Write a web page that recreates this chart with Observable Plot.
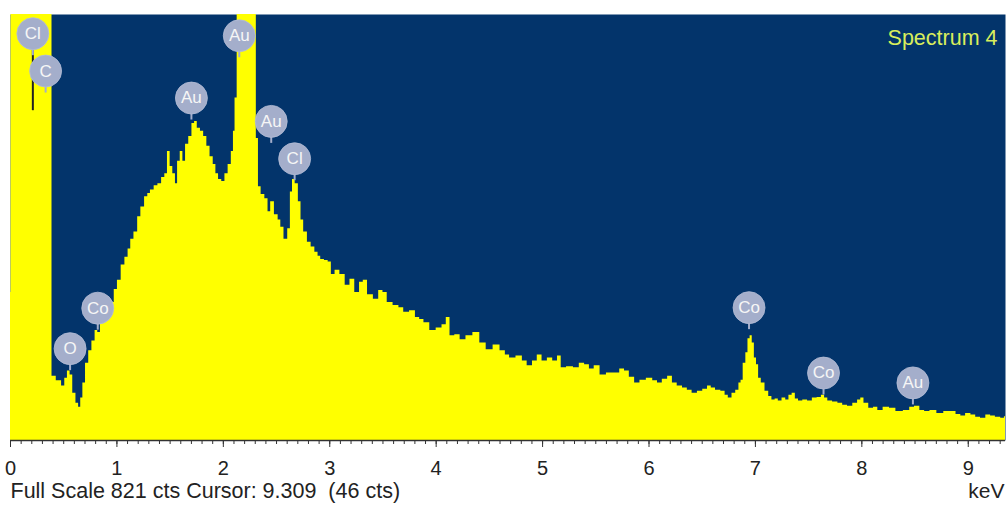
<!DOCTYPE html>
<html><head><meta charset="utf-8">
<script src="https://cdn.jsdelivr.net/npm/d3@7"></script>
<script src="https://cdn.jsdelivr.net/npm/@observablehq/plot@0.6"></script>
<style>body{margin:0;background:#fff;} svg{display:block;}</style>
</head><body><div id="chart"></div>
<script>
// Spectrum: energy (keV) and counts
const keV = [0,0.01,0.10,0.20,0.28,0.38,0.40,0.46,0.50,0.52,0.55,0.57,0.60,0.63,0.65,0.67,0.69,0.72,0.75,0.78,0.81,0.83,0.86,0.90,0.93,0.96,0.99,1.02,1.06,1.09,1.12,1.14,1.18,1.21,1.24,1.28,1.30,1.33,1.37,1.40,1.44,1.46,1.49,1.51,1.54,1.56,1.58,1.61,1.63,1.66,1.69,1.72,1.74,1.77,1.80,1.83,1.86,1.89,1.92,1.94,1.97,2.00,2.03,2.06,2.09,2.10,2.12,2.14,2.20,2.25,2.30,2.32,2.34,2.37,2.41,2.43,2.46,2.50,2.53,2.55,2.59,2.62,2.64,2.66,2.69,2.72,2.74,2.77,2.81,2.84,2.88,2.90,2.93,2.97,3.00,3.03,3.07,3.12,3.17,3.21,3.26,3.30,3.33,3.38,3.44,3.48,3.52,3.56,3.63,3.67,3.72,3.78,3.83,3.86,3.91,3.97,4.03,4.08,4.11,4.15,4.20,4.25,4.31,4.38,4.44,4.50,4.57,4.63,4.67,4.71,4.79,4.83,4.88,4.93,4.97,5.02,5.07,5.12,5.16,5.19,5.26,5.32,5.37,5.42,5.46,5.51,5.57,5.63,5.70,5.75,5.79,5.84,5.89,5.94,6.01,6.06,6.10,6.15,6.20,6.24,6.29,6.34,6.38,6.43,6.48,6.53,6.57,6.60,6.65,6.70,6.73,6.76,6.80,6.83,6.86,6.87,6.90,6.92,6.94,6.96,6.98,7.00,7.02,7.04,7.07,7.11,7.14,7.17,7.20,7.23,7.27,7.30,7.33,7.36,7.39,7.42,7.47,7.51,7.56,7.60,7.64,7.66,7.70,7.75,7.80,7.84,7.89,7.94,7.98,8.00,8.04,8.09,8.13,8.17,8.23,8.29,8.35,8.43,8.47,8.52,8.57,8.61,8.67,8.74,8.80,8.86,8.91,8.95,9.00,9.05,9.09,9.14,9.19,9.23,9.28,9.33,9.35];
const counts = [285,2600,3000,2800,2000,1200,124,115,105,120,134,126,91,72,64,82,111,149,173,192,212,208,227,231,247,266,291,309,338,353,369,388,402,431,450,470,476,483,491,495,507,514,557,528,514,495,538,557,538,571,586,611,615,602,596,586,567,547,532,514,503,499,514,532,557,596,660,900,1100,1000,850,582,489,474,466,441,460,435,425,411,388,408,479,503,495,460,425,402,382,373,363,355,349,347,344,320,328,320,299,311,285,305,309,281,272,289,285,266,260,256,247,250,237,233,227,212,217,223,237,202,204,194,202,208,188,175,184,173,165,159,163,153,144,153,165,153,159,153,163,140,142,140,149,146,138,144,126,130,130,138,134,122,111,116,120,115,111,118,124,111,105,101,97,91,95,99,105,101,97,95,87,82,91,97,111,116,149,169,196,202,188,159,146,120,111,95,85,78,80,76,82,78,87,91,80,76,78,76,82,83,87,82,76,74,72,68,66,72,78,82,72,62,64,58,64,62,56,58,64,66,58,56,58,52,56,56,50,47,52,49,45,43,49,47,45,43,46];

// Element labels
const peakNames = ["Cl","C","Au","Au","Au","Cl","Co","O","Co","Co","Au"];
const peakKeV   = [0.21,0.33,2.15,1.70,2.45,2.67,0.82,0.56,6.94,7.64,8.48];
const peakCts   = [784,712,780,660,615,543,255,177,256,130,111];

const xMajorTicks = [0,1,2,3,4,5,6,7,8,9];
const fullScale = 821;
const xMax = 9.35;
const title = "Spectrum 4";
const footer = "Full Scale 821 cts Cursor: 9.309  (46 cts)";
const unit = "keV";

const spectrum = keV.map((k, i) => ({keV: k, cts: counts[i]}));
const peaks = peakNames.map((n, i) => ({name: n, keV: peakKeV[i], cts: peakCts[i]}));
const minorTicks = d3.range(0, 94).map(i => i / 10);
const ctsPerPx = fullScale / 426;

const chart = Plot.plot({
  width: 1007, height: 511,
  marginTop: 14, marginLeft: 10, marginRight: 2, marginBottom: 71,
  x: {domain: [0, xMax], axis: null, label: null},
  y: {domain: [0, fullScale], axis: null, label: null},
  style: {fontFamily: "'Liberation Sans', Arial, sans-serif", background: "#fff", overflow: "visible"},
  marks: [
    Plot.frame({fill: "#03346b"}),
    Plot.areaY(spectrum, {x: "keV", y: "cts", fill: "#ffff00", curve: "step", clip: true}),
    Plot.ruleX(peaks.filter(d => d.keV < 0.3 && d.name === "Cl"), {x: "keV", y1: d => d.cts - 16 * ctsPerPx, y2: d => d.cts - 77 * ctsPerPx, stroke: "#222", strokeWidth: 2}),
    Plot.ruleX(peaks, {x: "keV", y1: d => d.cts - 15 * ctsPerPx, y2: d => d.cts - 22 * ctsPerPx, stroke: "#a4aecb", strokeWidth: 2}),
    Plot.dot(peaks, {x: "keV", y: "cts", r: 16, fill: "#a4aecb", stroke: "#b4bdd6", strokeWidth: 0.8}),
    Plot.text(peaks, {x: "keV", y: "cts", text: "name", fill: "#f6f6f6", fontSize: 17}),
    Plot.ruleY([0], {stroke: "#333", strokeWidth: 1.5}),
    Plot.axisX({ticks: minorTicks, tickSize: 4, tickFormat: () => "", stroke: "#333", label: null}),
    Plot.axisX({ticks: xMajorTicks, tickSize: 7, tickPadding: 13, fontSize: 20, fill: "#222", stroke: "#333", tickFormat: d => String(d), label: null}),
    Plot.text([title], {frameAnchor: "top-right", dx: -8, dy: 15, fill: "#d9ee5c", fontSize: 21.5}),
    Plot.text([footer], {frameAnchor: "bottom-left", dy: 57, textAnchor: "start", fill: "#222", fontSize: 21.5}),
    Plot.text([unit], {frameAnchor: "bottom-right", dx: -1, dy: 57, textAnchor: "end", fill: "#222", fontSize: 21})
  ]
});
document.getElementById("chart").append(chart);
</script>
</body></html>
